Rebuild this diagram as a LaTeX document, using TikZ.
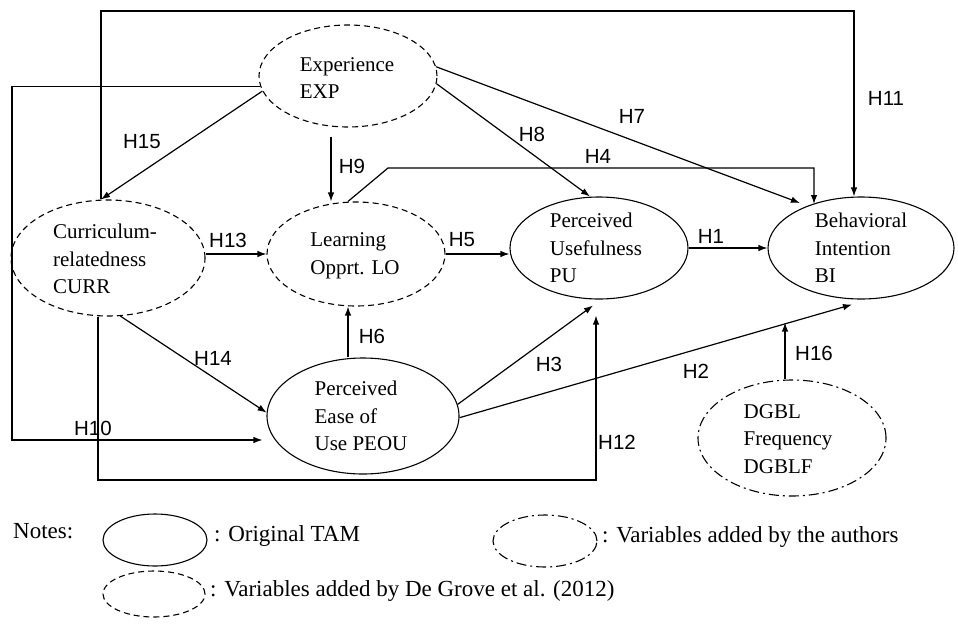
\documentclass[tikz,border=0pt]{standalone}
\usepackage{fontspec}
\setmainfont{Liberation Serif}
\newfontfamily\labelfont{Liberation Sans}
\usetikzlibrary{arrows.meta,calc,shapes.geometric}
\begin{document}
\begin{tikzpicture}[x=1pt,y=-1pt,
  var/.style={ellipse, draw, line width=1.1pt, inner sep=0pt},
  tam/.style={var},
  grove/.style={var, dash pattern=on 6pt off 4pt},
  auth/.style={var, dash pattern=on 10pt off 4pt on 2pt off 4pt},
  vtxt/.style={align=left, inner sep=0pt, font=\fontsize{21}{27.5}\selectfont},
  conn/.style={line width=1.2pt},
  arr/.style={conn, -{Latex[length=9pt,width=6.5pt]}},
  hlab/.style={inner sep=0pt, font=\labelfont\fontsize{20.5}{24}\selectfont},
  legtxt/.style={inner sep=0pt, anchor=base west, font=\fontsize{23}{27}\selectfont}
]
\useasboundingbox[fill=white] (0,0) rectangle (958,624);

% variables
\node[grove, minimum width=178, minimum height=102] (exp) at (348,76) {};
\node[vtxt] (expT) at (347,78) {Experience\\EXP};
\node[grove, minimum width=194, minimum height=116] (curr) at (108,258) {};
\node[vtxt] (currT) at (105,259) {Curriculum-\\relatedness\\CURR};
\node[grove, minimum width=178, minimum height=104] (lo) at (356,254) {};
\node[vtxt] (loT) at (355,256) {Learning\\Opprt. LO};
\node[tam, minimum width=192, minimum height=116] (peou) at (363,416) {};
\node[vtxt] (peouT) at (361,416) {Perceived\\Ease of\\Use PEOU};
\node[tam, minimum width=178, minimum height=102] (pu) at (599,248) {};
\node[vtxt] (puT) at (596,248) {Perceived\\Usefulness\\PU};
\node[tam, minimum width=186, minimum height=102] (bi) at (861,248) {};
\node[vtxt] (biT) at (861,248) {Behavioral\\Intention\\BI};
\node[auth, minimum width=188, minimum height=116] (dgb) at (792,438) {};
\node[vtxt] (dgbT) at (788,439) {DGBL\\Frequency\\DGBLF};

% helper coordinates
\coordinate (h11) at (854,11);
\coordinate (h10) at (12,440);
\coordinate (h12) at (596,480);
\coordinate (h4a) at (388,168);
\coordinate (h9) at ($(exp.south)+(-17,9)$);
\coordinate (h6) at ($(peou.north)+(-15,0)$);

% connectors
\draw[arr] ([xshift=-7pt]curr.north) |- (h11) -- ([xshift=-7pt]bi.north);
\draw[arr] (exp.187) -| (h10) -- ($(peou.west)+(-4,24)$);
\draw[arr] ([xshift=-10pt]curr.south) |- (h12) -- ($(pu.south)+(-3,16)$);
\draw[arr] (exp.190) -- ([xshift=-7pt]curr.north);
\draw[arr] (h9) -- (h9 |- lo.north);
\draw[arr] (exp.-5) -- ([xshift=-9pt]pu.north);
\draw[arr] (exp.6) -- ($(bi.center)+(-61,-45)$);
\draw[arr] ([xshift=-8pt]lo.north) -- (h4a) -| ($(bi.center)+(-47,-44)$);
\draw[arr] (curr.east |- lo.west) -- (lo.west);
\draw[arr] (lo.east) -- (pu.west |- lo.east);
\draw[arr] (pu.east) -- (bi.west);
\draw[arr] (curr.-78) -- (peou.178);
\draw[arr] (h6) -- (h6 |- lo.south);
\draw[arr] (peou.7) -- ($(pu.south)+(-6,6)$);
\draw[arr] (peou.-1) -- ($(bi.south)+(-9,5)$);
\draw[arr] ([xshift=-7pt]dgb.north) -- ($(bi.south)+(-76,23)$);

% labels
\node[hlab] (l15) at (142,142) {H15};
\node[hlab] (l9) at (352,166) {H9};
\node[hlab] (l8) at (532,134) {H8};
\node[hlab] (l7) at (632,116) {H7};
\node[hlab] (l4) at (598,156) {H4};
\node[hlab] (l11) at (886,98) {H11};
\node[hlab] (l13) at (228,240) {H13};
\node[hlab] (l5) at (462,240) {H5};
\node[hlab] (l1) at (711,236) {H1};
\node[hlab] (l14) at (213,358) {H14};
\node[hlab] (l6) at (372,336) {H6};
\node[hlab] (l10) at (93,428) {H10};
\node[hlab] (l3) at (549,364) {H3};
\node[hlab] (l2) at (696,371) {H2};
\node[hlab] (l12) at (617,442) {H12};
\node[hlab] (l16) at (814,353) {H16};

% legend
\node[legtxt] (notes) at (13,538) {Notes:};
\node[tam, minimum width=104, minimum height=52] (legtam) at (155,540) {};
\node[legtxt] (legtamT) at (214,541) {: Original TAM};
\node[auth, minimum width=104, minimum height=52] (legauth) at (545,541) {};
\node[legtxt] (legauthT) at (602,542) {: Variables added by the authors};
\node[grove, minimum width=102, minimum height=46] (leggrove) at (154,594) {};
\node[legtxt] (leggroveT) at (210,596) {: Variables added by De Grove et al. (2012)};
\end{tikzpicture}
\end{document}
